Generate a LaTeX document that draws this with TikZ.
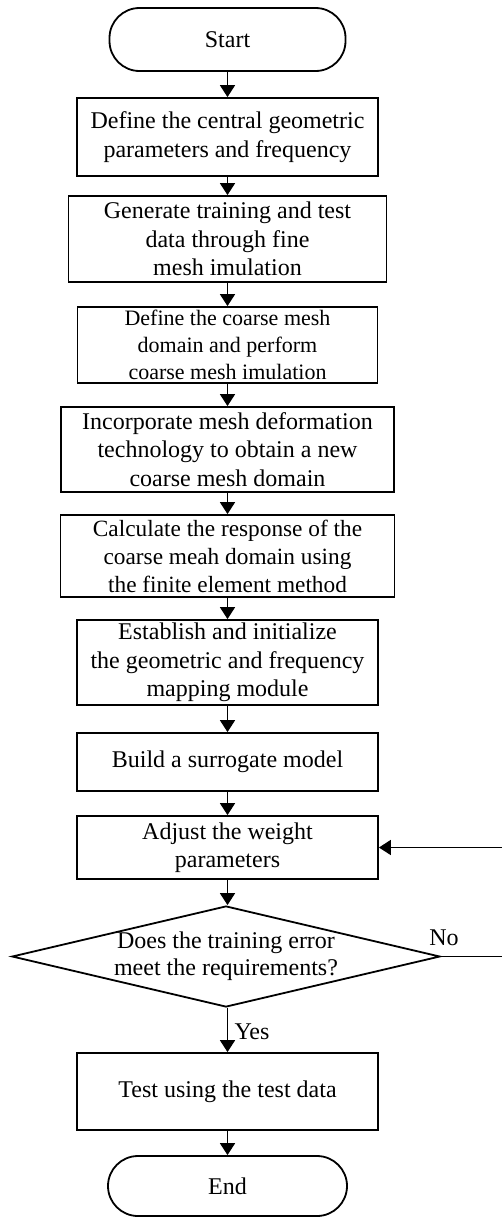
\documentclass[tikz,border=0pt]{standalone}
\usepackage{fontspec}
\setmainfont{Liberation Serif}
\usetikzlibrary{arrows.meta,shapes.geometric}
\begin{document}
\begin{tikzpicture}[x=1pt,y=-1pt,
  every node/.style={font=\fontsize{24}{28.5}\selectfont, align=center, inner sep=0pt},
  box/.style={draw, line width=1.8pt, rectangle},
  term/.style={draw, line width=1.8pt, rectangle, rounded corners=30pt},
  decision/.style={draw, line width=1.8pt, diamond},
  conn/.style={line width=1.8pt, -{Triangle[length=12pt,width=15pt]}},
  small/.style={font=\fontsize{22}{27}\selectfont}]
\useasboundingbox (0,0) rectangle (501,1218);

\node[term, minimum width=236pt, minimum height=63pt] (start) at (227.5,39.5) {Start};
\node[box, minimum width=301pt, minimum height=78pt] (b1) at (227.5,137) {Define the central geometric\\parameters and frequency};
\node[box, minimum width=318pt, minimum height=86pt] (b2) at (227.5,239) {Generate training and test\\data through fine\\mesh imulation};
\node[box, small, minimum width=300pt, minimum height=76pt] (b3) at (227.5,345) {Define the coarse mesh\\domain and perform\\coarse mesh imulation};
\node[box, minimum width=333pt, minimum height=85pt] (b4) at (227.5,449.5) {Incorporate mesh deformation\\technology to obtain a new\\coarse mesh domain};
\node[box, font=\fontsize{23.3}{28}\selectfont, minimum width=334pt, minimum height=82pt] (b5) at (227.5,556) {Calculate the response of the\\coarse meah domain using\\the finite element method};
\node[box, minimum width=301pt, minimum height=85pt] (b6) at (227.5,662.5) {Establish and initialize\\the geometric and frequency\\mapping module};
\node[box, minimum width=301pt, minimum height=58pt] (b7) at (227.5,762) {Build a surrogate model};
\node[box, minimum width=301pt, minimum height=63pt] (b8) at (227.5,847.5) {Adjust the weight\\parameters};
\node[decision, minimum width=428pt, minimum height=101pt] (d) at (226,956.5) {};
\node[font=\fontsize{24}{27}\selectfont] (dtext) at (226,956.5) {Does the training error\\meet the requirements?};
\node[box, minimum width=301pt, minimum height=77pt] (b9) at (227.5,1091.5) {Test using the test data};
\node[term, minimum width=239pt, minimum height=60pt] (end) at (227.5,1186) {End};

\node (no) at (444,938) {No};
\node (yes) at (252,1032) {Yes};

\coordinate (r1) at (504,956.5);
\coordinate (r2) at (504,847.5);

\draw[conn] (start.south) -- (start.south |- b1.north);
\draw[conn] (b1.south) -- (b1.south |- b2.north);
\draw[conn] (b2.south) -- (b2.south |- b3.north);
\draw[conn] (b3.south) -- (b3.south |- b4.north);
\draw[conn] (b4.south) -- (b4.south |- b5.north);
\draw[conn] (b5.south) -- (b5.south |- b6.north);
\draw[conn] (b6.south) -- (b6.south |- b7.north);
\draw[conn] (b7.south) -- (b7.south |- b8.north);
\draw[conn] (b8.south) -- (b8.south |- d.north);
\draw[conn] (b8.south |- d.south) -- (b8.south |- b9.north);
\draw[conn] (b9.south) -- (b9.south |- end.north);
\draw[conn] (d.east) -- (r1) -- (r2) -- (b8.east);
\end{tikzpicture}
\end{document}
